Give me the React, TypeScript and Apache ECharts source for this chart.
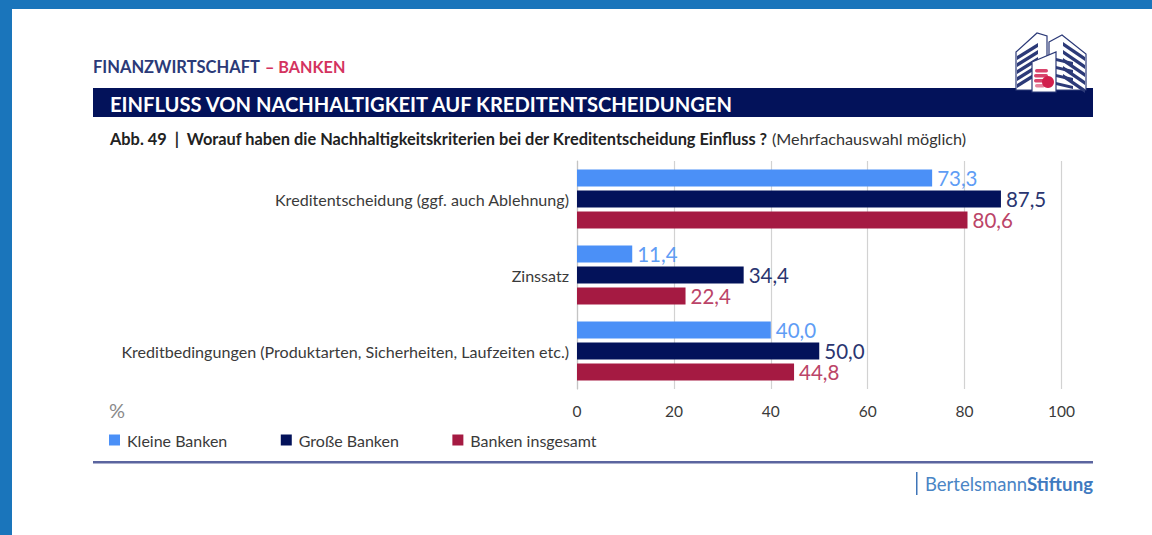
import React, { useEffect, useRef } from "react";
import * as echarts from "echarts";

const categories = [
  "Kreditentscheidung (ggf. auch Ablehnung)",
  "Zinssatz",
  "Kreditbedingungen (Produktarten, Sicherheiten, Laufzeiten etc.)",
];
const kleineBanken = [73.3, 11.4, 40.0];
const grosseBanken = [87.5, 34.4, 50.0];
const bankenInsgesamt = [80.6, 22.4, 44.8];
const seriesNames = ["Kleine Banken", "Große Banken", "Banken insgesamt"];
const xTicks = { min: 0, max: 100, interval: 20 };

const NAVY = "#03125a";
const LIGHT = "#4b90f7";
const RED = "#a51a42";
const FONT = "Lato, 'Open Sans', sans-serif";

const fmt = (v: number) => v.toFixed(1).replace(".", ",");

export default function App() {
  const ref = useRef<HTMLDivElement>(null);
  useEffect(() => {
    document.body.style.margin = "0";
    const chart = echarts.init(ref.current!, null, { renderer: "svg" });
    const mk = (name: string, data: number[], color: string) => ({
      name,
      type: "bar",
      data,
      barWidth: 17,
      barGap: "23.5%",
      itemStyle: { color },
      label: {
        show: true,
        position: "right",
        distance: 5,
        color: color === LIGHT ? "#5f9df5" : color === NAVY ? "#2a3570" : "#bb4468",
        fontFamily: FONT,
        fontSize: 20.5,
        formatter: (p: any) => fmt(p.value),
      },
    });
    const outline = (o: any = {}) => ({ stroke: "#2c3a78", fill: "#fff", lineWidth: 1.2, ...o });
    const building: any[] = [
      { type: "polygon", shape: { points: [[1016, 52], [1037, 33], [1047, 36], [1047, 90], [1016, 90]] }, style: outline() },
      { type: "polygon", shape: { points: [[1049, 42], [1062, 35], [1086, 54], [1086, 90], [1049, 90]] }, style: outline() },
      ...[56, 63, 70, 77, 84].map((y) => ({
        type: "polygon",
        shape: { points: [[1017, y], [1038, y - 13], [1038, y - 9], [1017, y + 4]] },
        style: { fill: "#2c3a78" },
      })),
      ...[42, 50, 58, 66, 74].map((y) => ({
        type: "polygon",
        shape: { points: [[1063, y], [1085, y + 15], [1085, y + 19], [1063, y + 4]] },
        style: { fill: "#2c3a78" },
      })),
      ...[58, 66, 74, 82].map((y) => ({
        type: "polygon",
        shape: { points: [[1056, y], [1073, y + 4], [1073, y + 7], [1056, y + 3]] },
        style: { fill: "#2c3a78" },
      })),
      { type: "polygon", shape: { points: [[1032, 62], [1056, 52], [1056, 92], [1032, 92]] }, style: outline() },
      { type: "rect", shape: { x: 1035, y: 69, width: 13, height: 3.5, r: 1.7 }, style: { fill: "#d9446c" } },
      { type: "rect", shape: { x: 1034, y: 74, width: 14, height: 3.5, r: 1.7 }, style: { fill: "#d9446c" } },
      { type: "rect", shape: { x: 1034, y: 79, width: 12, height: 3.5, r: 1.7 }, style: { fill: "#d9446c" } },
      { type: "rect", shape: { x: 1035, y: 84, width: 10, height: 3.5, r: 1.7 }, style: { fill: "#e6829c" } },
      { type: "circle", shape: { cx: 1048, cy: 82, r: 6 }, style: { fill: "#d11f4c" } },
    ];
    chart.setOption({
      animation: false,
      backgroundColor: "#fff",
      grid: { left: 577, top: 161, width: 484.5, height: 228, containLabel: false },
      legend: {
        left: 109,
        top: 432,
        padding: 0,
        itemWidth: 11,
        itemHeight: 11,
        itemGap: 53.5,
        data: seriesNames,
        icon: "rect",
        textStyle: { color: "#3a3a3a", fontFamily: FONT, fontSize: 16, padding: [0, 0, 0, 2] },
      },
      xAxis: {
        type: "value",
        min: xTicks.min,
        max: xTicks.max,
        interval: xTicks.interval,
        axisLine: { show: false },
        axisTick: { show: false },
        splitLine: { lineStyle: { color: "#d2d2d2", width: 1.2 } },
        axisLabel: { color: "#3a3a3a", fontFamily: FONT, fontSize: 15.5, margin: 14 },
      },
      yAxis: {
        type: "category",
        inverse: true,
        data: categories,
        axisLine: { show: true, lineStyle: { color: "#c4c4c4", width: 1.2 } },
        axisTick: { show: false },
        axisLabel: { color: "#3a3a3a", fontFamily: FONT, fontSize: 16.1, margin: 8 },
      },
      series: [
        mk(seriesNames[0], kleineBanken, LIGHT),
        mk(seriesNames[1], grosseBanken, NAVY),
        mk(seriesNames[2], bankenInsgesamt, RED),
      ],
      graphic: [
        { type: "rect", silent: true, shape: { x: 0, y: 0, width: 1152, height: 9 }, style: { fill: "#1a75bb" } },
        { type: "rect", silent: true, shape: { x: 0, y: 0, width: 12, height: 535 }, style: { fill: "#1a75bb" } },
        { type: "rect", shape: { x: 93, y: 88, width: 1000, height: 29 }, style: { fill: NAVY } },
        ...building,
        {
          type: "text", x: 93, y: 58,
          style: { text: "FINANZWIRTSCHAFT", fill: "#2b3a78", fontFamily: FONT, fontWeight: 700, fontSize: 16.5 },
        },
        {
          type: "text", x: 265, y: 58,
          style: { text: "– BANKEN", fill: "#d4335f", fontFamily: FONT, fontWeight: 700, fontSize: 16.2 },
        },
        {
          type: "text", x: 110, y: 94,
          style: {
            text: "EINFLUSS VON NACHHALTIGKEIT AUF KREDITENTSCHEIDUNGEN",
            fill: "#fff", fontFamily: FONT, fontWeight: 700, fontSize: 20.15,
          },
        },
        {
          type: "text", x: 110, y: 130,
          style: {
            text: "Abb. 49  |  Worauf haben die Nachhaltigkeitskriterien bei der Kreditentscheidung Einfluss ?",
            fill: "#222", fontFamily: FONT, fontWeight: 700, fontSize: 16.35,
          },
        },
        {
          type: "text", x: 772, y: 130,
          style: { text: "(Mehrfachauswahl möglich)", fill: "#333", fontFamily: FONT, fontSize: 16.2 },
        },
        { type: "text", x: 109, y: 400, style: { text: "%", fill: "#8a8a8a", fontFamily: FONT, fontSize: 20 } },
        { type: "rect", shape: { x: 93, y: 461, width: 1000, height: 2.5 }, style: { fill: "#5b659f" } },
        { type: "rect", shape: { x: 916, y: 472, width: 1.5, height: 23 }, style: { fill: "#3f75b8" } },
        {
          type: "text", x: 925, y: 474,
          style: { text: "Bertelsmann", fill: "#4a85c5", fontFamily: FONT, fontSize: 18.5 },
        },
        {
          type: "text", x: 1027, y: 474,
          style: { text: "Stiftung", fill: "#3f7abf", fontFamily: FONT, fontWeight: 700, fontSize: 18.7 },
        },
      ],
    });
    return () => chart.dispose();
  }, []);
  return <div ref={ref} style={{ width: 1152, height: 535 }} />;
}
